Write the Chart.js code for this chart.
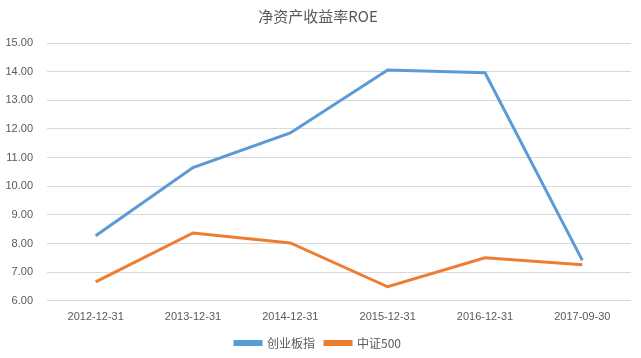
<!DOCTYPE html>
<html>
<head>
<meta charset="utf-8">
<script src="https://cdn.jsdelivr.net/npm/chart.js@4/dist/chart.umd.min.js"></script>
<style>
  html, body { margin: 0; padding: 0; background: #fff; }
  #wrap { width: 641px; height: 358px; position: relative; }
</style>
</head>
<body>
<div id="wrap"><canvas id="roeChart"></canvas></div>
<script>
// 数据
const categories = ['2012-12-31', '2013-12-31', '2014-12-31', '2015-12-31', '2016-12-31', '2017-09-30'];
const chuangye = [8.27, 10.65, 11.86, 14.06, 13.96, 7.41];
const zz500 = [6.66, 8.37, 8.02, 6.49, 7.50, 7.26];
const yTicks = [6, 7, 8, 9, 10, 11, 12, 13, 14, 15];

const textColor = '#595959';
const cjkFont = '"Noto Sans CJK SC", "Noto Sans", sans-serif';
const numFont = '"Liberation Sans", Arial, sans-serif';

const ctx = document.getElementById('roeChart').getContext('2d');
new Chart(ctx, {
    type: 'line',
    data: {
        labels: categories,
        datasets: [{
            label: '创业板指',
            data: chuangye,
            borderColor: '#5B9BD5',
            backgroundColor: '#5B9BD5',
            borderWidth: 3,
            pointRadius: 0,
            tension: 0
        }, {
            label: '中证500',
            data: zz500,
            borderColor: '#ED7D31',
            backgroundColor: '#ED7D31',
            borderWidth: 3,
            pointRadius: 0,
            tension: 0
        }]
    },
    options: {
        responsive: true,
        maintainAspectRatio: false,
        animation: false,
        layout: { padding: { left: 5, right: 10, top: 0, bottom: 0 } },
        plugins: {
            title: {
                display: true,
                text: '净资产收益率ROE',
                color: textColor,
                font: { family: cjkFont, size: 15, weight: 'normal' },
                padding: { top: 7, bottom: 18 }
            },
            legend: {
                position: 'bottom',
                maxHeight: 31,
                labels: {
                    color: textColor,
                    font: { family: cjkFont, size: 12 },
                    boxWidth: 26,
                    boxHeight: 3,
                    padding: 10
                }
            },
            tooltip: { enabled: false }
        },
        scales: {
            x: {
                offset: true,
                afterFit: axis => { axis.height = axis.height - 7; },
                grid: { display: false, drawTicks: false },
                border: { display: false },
                ticks: {
                    color: textColor,
                    font: { family: numFont, size: 11 },
                    padding: 10,
                    maxRotation: 0
                }
            },
            y: {
                min: 6,
                max: 15,
                afterBuildTicks: axis => { axis.ticks = yTicks.map(v => ({ value: v })); },
                afterFit: axis => { axis.width = 42; },
                grid: { color: '#d9d9d9', lineWidth: 1, drawTicks: false },
                border: { display: false },
                ticks: {
                    color: textColor,
                    font: { family: numFont, size: 11 },
                    padding: 14,
                    callback: v => Number(v).toFixed(2)
                }
            }
        }
    }
});
</script>
</body>
</html>
